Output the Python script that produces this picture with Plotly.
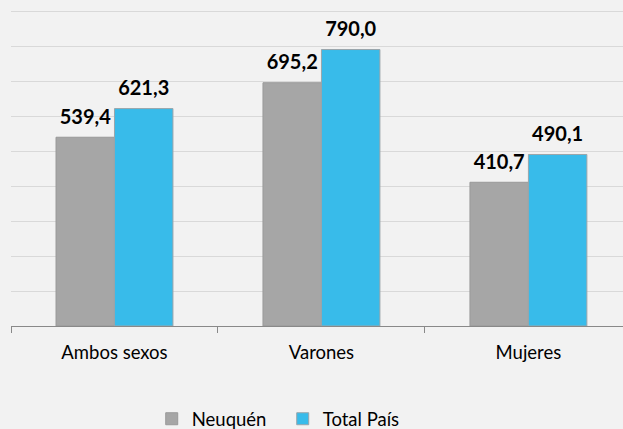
import plotly.graph_objects as go

categories = ['Ambos sexos', 'Varones', 'Mujeres']
neuquen = [539.4, 695.2, 410.7]
total_pais = [621.3, 790.0, 490.1]

series = [
    ('Neuquén', neuquen, '#A6A6A6', '#999999'),
    ('Total País', total_pais, '#38BBEA', '#9AA5AA'),
]

FONT = 'Lato, Open Sans, sans-serif'


def fmt(values):
    return [f'{v:.1f}'.replace('.', ',') for v in values]


fig = go.Figure()

for i, (name, values, color, edge) in enumerate(series):
    fig.add_trace(
        go.Bar(
            x=categories,
            y=values,
            name=name,
            offsetgroup=str(i),
            marker=dict(color=color, line=dict(color=edge, width=1)),
            hoverinfo='skip'
        )
    )

# value labels, lifted a bit above the bars like in the original
for i, (name, values, color, edge) in enumerate(series):
    fig.add_trace(
        go.Scatter(
            x=categories,
            y=values,
            offsetgroup=str(i),
            mode='markers+text',
            text=fmt(values),
            textposition='top center',
            textfont=dict(size=20, family=FONT, color='#000000', weight='bold'),
            marker=dict(size=12, opacity=0),
            showlegend=False,
            hoverinfo='skip',
            cliponaxis=False
        )
    )

fig.update_layout(
    width=623, height=429,
    margin=dict(l=11, r=0, t=10, b=103, autoexpand=False),
    paper_bgcolor='#F2F2F2',
    plot_bgcolor='#F2F2F2',
    font=dict(family=FONT, color='#000000', size=18.5),
    barmode='group',
    scattermode='group',
    bargap=0.435,
    bargroupgap=0,
    showlegend=True,
    legend=dict(orientation='h', x=0.444, xanchor='center', y=-0.295, yanchor='middle',
                font=dict(size=18.5), itemwidth=30, entrywidthmode='pixels', entrywidth=86),
)

fig.update_xaxes(
    range=[-0.5, 2.457],
    showline=True, linecolor='#898989', linewidth=1,
    ticks='outside', tickson='boundaries', ticklen=6, tickcolor='#898989',
    ticklabelstandoff=10,
    showgrid=False, tickfont=dict(size=18.5)
)

# a touch above 900 so the top gridline is still drawn
fig.update_yaxes(
    range=[0, 903], dtick=100,
    showgrid=True, gridcolor='#D9D9D9', gridwidth=1,
    showticklabels=False, zeroline=False
)

fig.write_html('out.html', config={'displayModeBar': False},
               post_script="document.body.style.margin='0';document.body.style.background='#F2F2F2';")
